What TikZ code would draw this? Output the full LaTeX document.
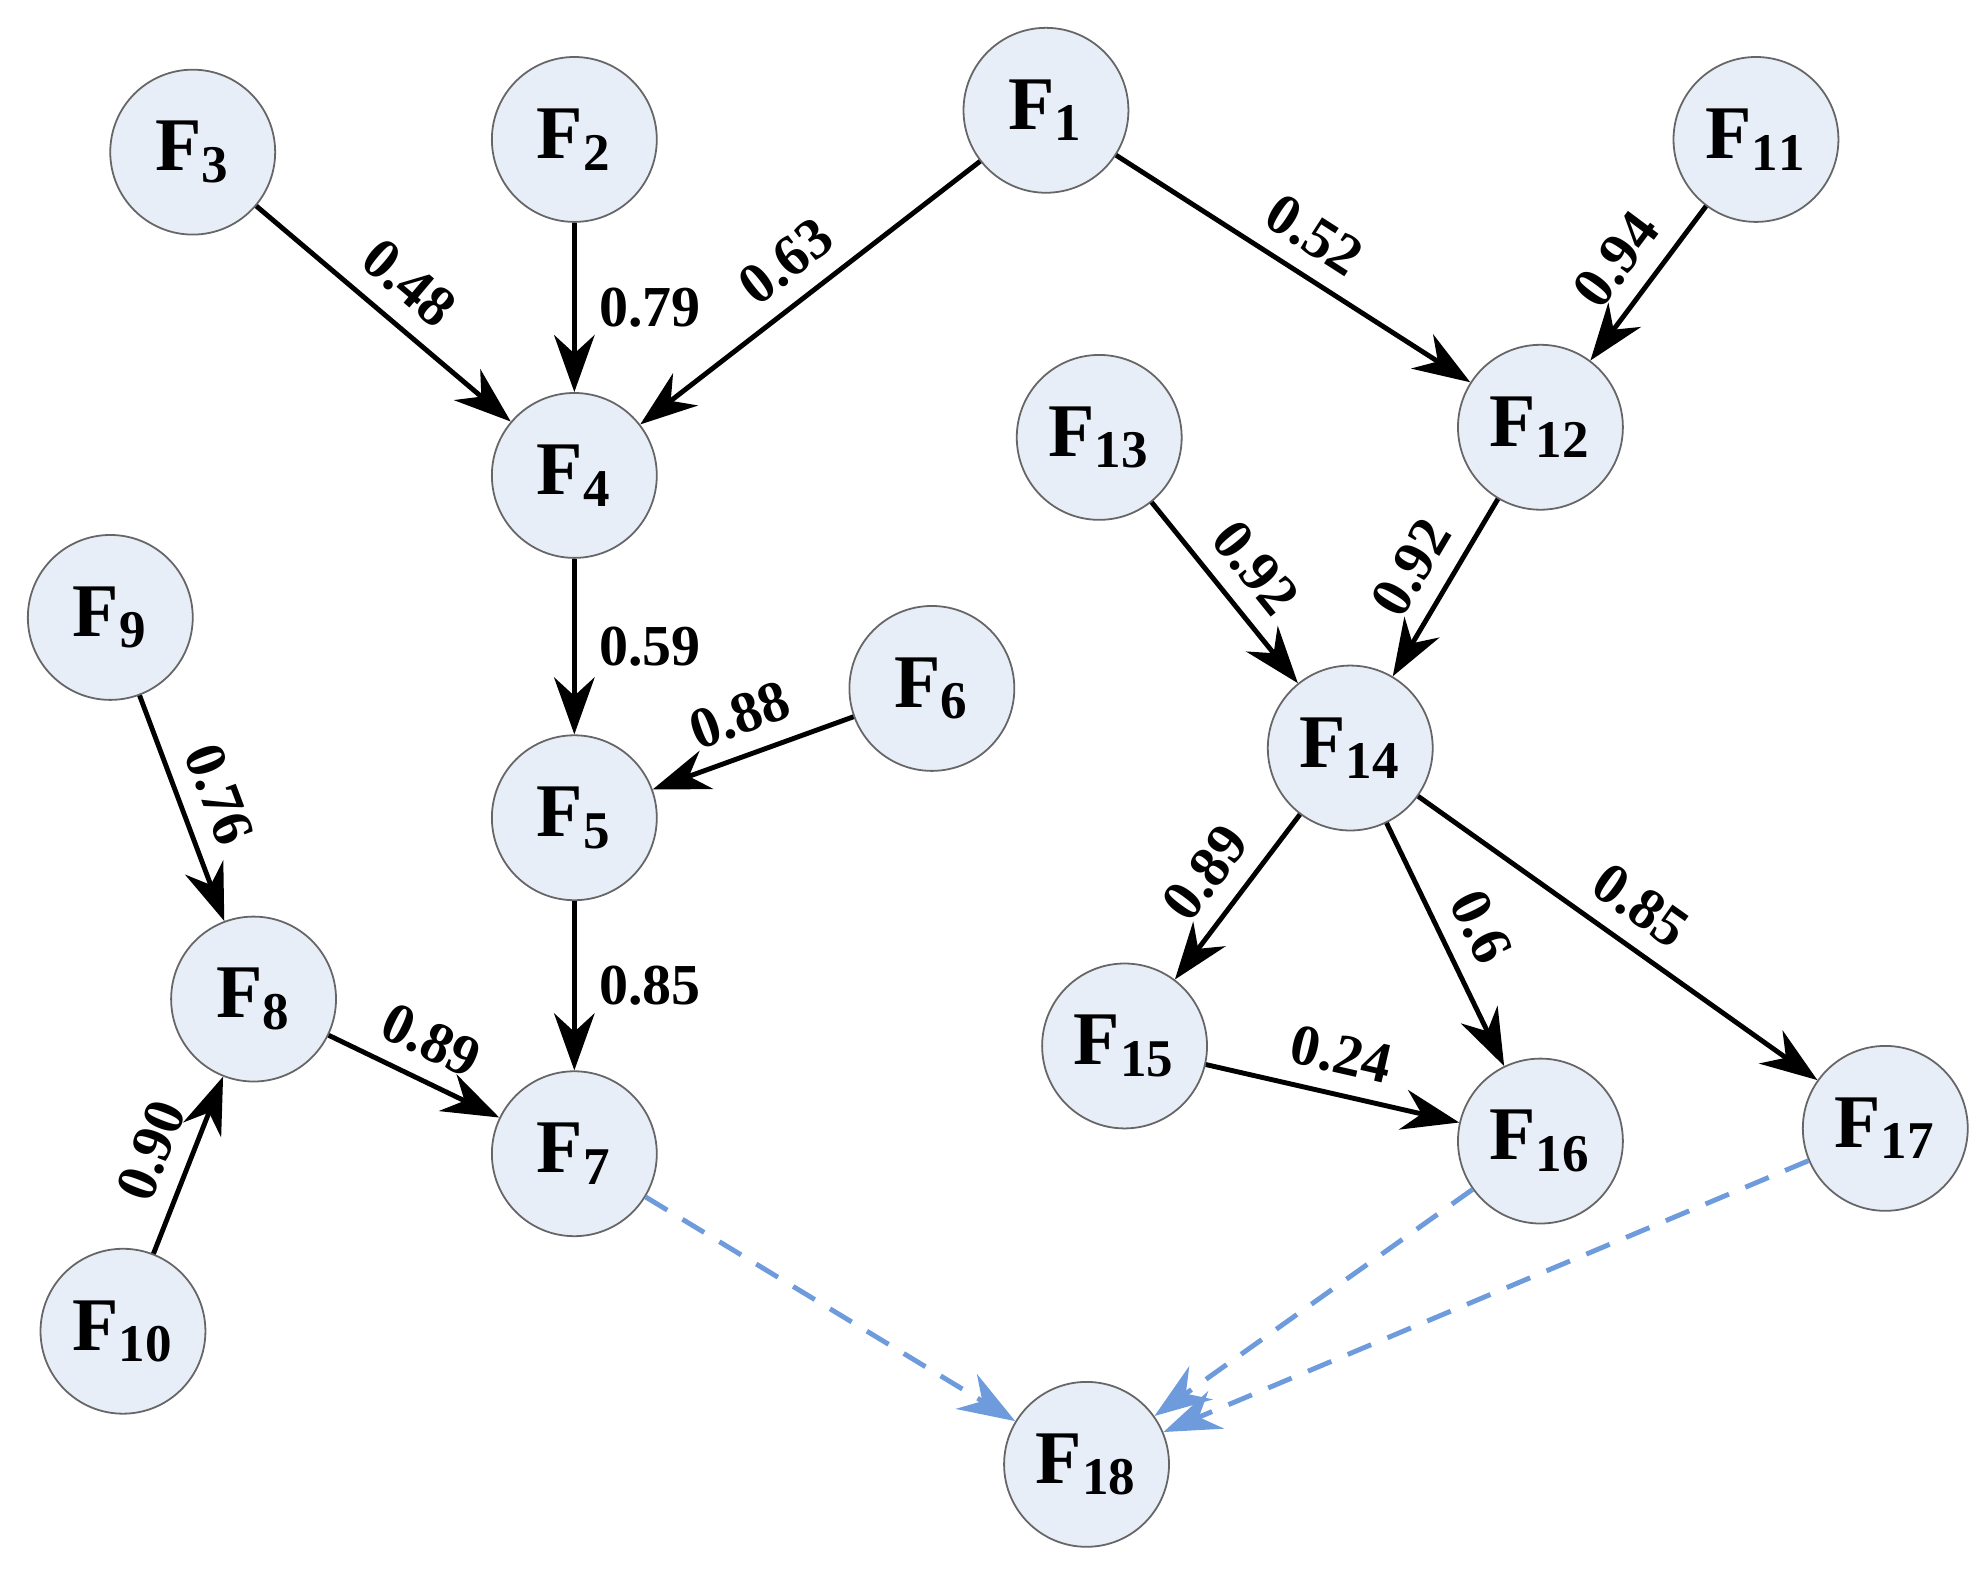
\documentclass[tikz,border=0pt]{standalone}
\usepackage{fontspec}
\setmainfont{Liberation Serif}
\usetikzlibrary{arrows.meta}
\definecolor{nodefill}{RGB}{232,238,248}
\definecolor{dashblue}{RGB}{110,155,220}
\begin{document}
\begin{tikzpicture}[x=0.01cm,y=-0.01cm,
	factor/.style={circle,draw=black!60,fill=nodefill,minimum size=1.3cm,inner sep=0pt,
		font=\fontsize{17}{17}\selectfont\bfseries},
	link/.style={-{Stealth[length=4.5mm,width=3.2mm]},line width=1.1pt},
	final/.style={-{Stealth[length=4.5mm,width=3.2mm]},line width=1.1pt,dashblue,dash pattern=on 2mm off 1.4mm},
	w/.style={font=\fontsize{13}{13}\selectfont\bfseries,sloped,above,inner sep=4pt},
	wr/.style={font=\fontsize{13}{13}\selectfont\bfseries,right,inner sep=5pt}]

	\useasboundingbox (0,0) rectangle (1568,1240);

	\node[factor] (f1) at (825,87) {F$_{\mathbf 1}$};
	\node[factor] (f2) at (453,110) {F$_{\mathbf 2}$};
	\node[factor] (f3) at (152,120) {F$_{\mathbf 3}$};
	\node[factor] (f4) at (453,375) {F$_{\mathbf 4}$};
	\node[factor] (f5) at (453,645) {F$_{\mathbf 5}$};
	\node[factor] (f6) at (735,543) {F$_{\mathbf 6}$};
	\node[factor] (f7) at (453,910) {F$_{\mathbf 7}$};
	\node[factor] (f8) at (200,788) {F$_{\mathbf 8}$};
	\node[factor] (f9) at (87,487) {F$_{\mathbf 9}$};
	\node[factor] (f10) at (97,1050) {F$_{\mathbf{10}}$};
	\node[factor] (f11) at (1385,110) {F$_{\mathbf{11}}$};
	\node[factor] (f12) at (1215,337) {F$_{\mathbf{12}}$};
	\node[factor] (f13) at (867,345) {F$_{\mathbf{13}}$};
	\node[factor] (f14) at (1065,590) {F$_{\mathbf{14}}$};
	\node[factor] (f15) at (887,825) {F$_{\mathbf{15}}$};
	\node[factor] (f16) at (1215,900) {F$_{\mathbf{16}}$};
	\node[factor] (f17) at (1487,890) {F$_{\mathbf{17}}$};
	\node[factor] (f18) at (857,1155) {F$_{\mathbf{18}}$};

	\draw[link] (f3) -- node[w] {0.48} (f4);
	\draw[link] (f2) -- node[wr] {0.79} (f4);
	\draw[link] (f1) -- node[w] {0.63} (f4);
	\draw[link] (f1) -- node[w] {0.52} (f12);
	\draw[link] (f11) -- node[w] {0.94} (f12);
	\draw[link] (f4) -- node[wr] {0.59} (f5);
	\draw[link] (f6) -- node[w] {0.88} (f5);
	\draw[link] (f5) -- node[wr] {0.85} (f7);
	\draw[link] (f9) -- node[w] {0.76} (f8);
	\draw[link] (f10) -- node[w] {0.90} (f8);
	\draw[link] (f8) -- node[w] {0.89} (f7);
	\draw[link] (f13) -- node[w] {0.92} (f14);
	\draw[link] (f12) -- node[w] {0.92} (f14);
	\draw[link] (f14) -- node[w] {0.89} (f15);
	\draw[link] (f14) -- node[w] {0.6} (f16);
	\draw[link] (f14) -- node[w] {0.85} (f17);
	\draw[link] (f15) -- node[w] {0.24} (f16);

	\draw[final] (f7) -- (f18);
	\draw[final] (f16) -- (f18);
	\draw[final] (f17) -- (f18);

\end{tikzpicture}
\end{document}
